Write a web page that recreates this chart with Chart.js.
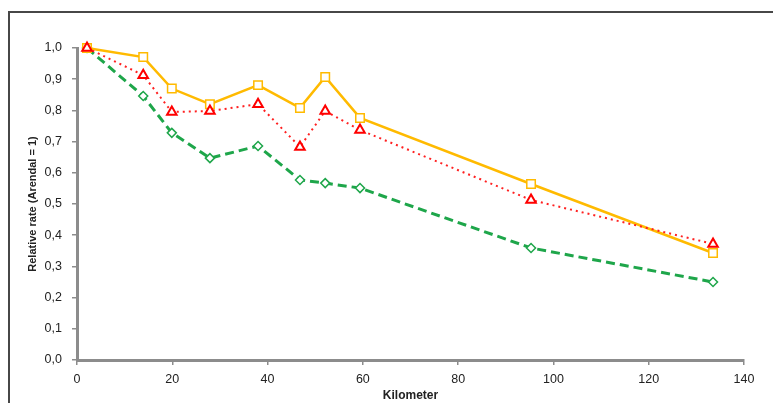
<!DOCTYPE html>
<html>
<head>
<meta charset="utf-8">
<script src="https://cdn.jsdelivr.net/npm/chart.js@4/dist/chart.umd.min.js"></script>
<style>
html,body{margin:0;padding:0;background:#fff;}
#wrap{width:773px;height:403px;position:relative;}
</style>
</head>
<body>
<div id="wrap"><canvas id="c" width="773" height="403"></canvas></div>
<script>
const kilometers = [2.1, 13.9, 19.9, 27.9, 38.0, 46.8, 52.1, 59.4, 95.3, 133.5];
const seriesSquare = [1.0, 0.971, 0.870, 0.820, 0.881, 0.808, 0.907, 0.776, 0.564, 0.343];
const seriesTriangle = [1.0, 0.913, 0.795, 0.798, 0.820, 0.683, 0.798, 0.737, 0.513, 0.372];
const seriesDiamond = [1.0, 0.846, 0.728, 0.647, 0.686, 0.577, 0.567, 0.551, 0.359, 0.250];
const xTicks = [0, 20, 40, 60, 80, 100, 120, 140];
const yTicks = [0, 0.1, 0.2, 0.3, 0.4, 0.5, 0.6, 0.7, 0.8, 0.9, 1.0];

const toPts = vals => vals.map((v, i) => ({x: kilometers[i], y: v}));

const frame = {
  id: 'frame',
  beforeDraw(chart) {
    const ctx = chart.ctx;
    ctx.save();
    ctx.strokeStyle = '#474747';
    ctx.lineWidth = 2;
    ctx.beginPath();
    ctx.moveTo(9, 403);
    ctx.lineTo(9, 12);
    ctx.lineTo(773, 12);
    ctx.stroke();
    ctx.restore();
  }
};

new Chart(document.getElementById('c'), {
  type: 'line',
  data: {
    datasets: [
      {
        label: 'Square',
        data: toPts(seriesSquare),
        borderColor: '#FFBA00',
        backgroundColor: '#ffffff',
        borderWidth: 2.5,
        pointStyle: 'rect',
        pointRadius: 6,
        pointBorderWidth: 1.5,
        pointBorderColor: '#FFBA00',
        pointBackgroundColor: '#ffffff',
        tension: 0,
        clip: false,
        order: 1
      },
      {
        label: 'Triangle',
        data: toPts(seriesTriangle),
        borderColor: '#FF2020',
        borderWidth: 2,
        borderDash: [2, 4],
        pointStyle: 'triangle',
        pointRadius: 5.5,
        pointBorderWidth: 2,
        pointBorderColor: '#FF0000',
        pointBackgroundColor: '#ffffff',
        tension: 0,
        clip: false,
        order: 0
      },
      {
        label: 'Diamond',
        data: toPts(seriesDiamond),
        borderColor: '#1EA64A',
        borderWidth: 3,
        borderDash: [9, 5],
        pointStyle: 'rectRot',
        pointRadius: 4.5,
        pointBorderWidth: 1.5,
        pointBorderColor: '#1EA64A',
        pointBackgroundColor: '#ffffff',
        tension: 0,
        clip: false,
        order: 2
      }
    ]
  },
  options: {
    responsive: false,
    animation: false,
    devicePixelRatio: 1,
    layout: {padding: {left: 26, top: 48, right: 29, bottom: 0}},
    plugins: {legend: {display: false}, tooltip: {enabled: false}},
    scales: {
      x: {
        type: 'linear',
        min: 0, max: 140,
        afterBuildTicks(scale) { scale.ticks = xTicks.map(v => ({value: v})); },
        afterFit(scale) { scale.height = 43; },
        border: {display: true, color: '#8c8c8c', width: 3},
        grid: {drawOnChartArea: false, drawTicks: true, tickLength: 5, color: '#8c8c8c', lineWidth: 1.5},
        ticks: {color: '#222', font: {family: 'Liberation Sans, Arial', size: 12.5}, padding: 7, maxRotation: 0},
        title: {display: true, text: 'Kilometer', color: '#222', font: {family: 'Liberation Sans, Arial', size: 12, weight: 'bold'}, padding: {top: 0, bottom: 0}}
      },
      y: {
        type: 'linear',
        min: 0, max: 1,
        afterBuildTicks(scale) { scale.ticks = yTicks.map(v => ({value: v})); },
        afterFit(scale) { scale.width = 51; },
        border: {display: true, color: '#8c8c8c', width: 3},
        grid: {drawOnChartArea: false, drawTicks: true, tickLength: 5, color: '#8c8c8c', lineWidth: 1.5},
        ticks: {color: '#222', font: {family: 'Liberation Sans, Arial', size: 12.5}, padding: 10,
          callback: v => v.toFixed(1).replace('.', ',')},
        title: {display: true, text: 'Relative rate (Arendal = 1)', color: '#222', font: {family: 'Liberation Sans, Arial', size: 11, weight: 'bold'}, padding: {top: 0, bottom: 0}}
      }
    }
  },
  plugins: [frame]
});
</script>
</body>
</html>
